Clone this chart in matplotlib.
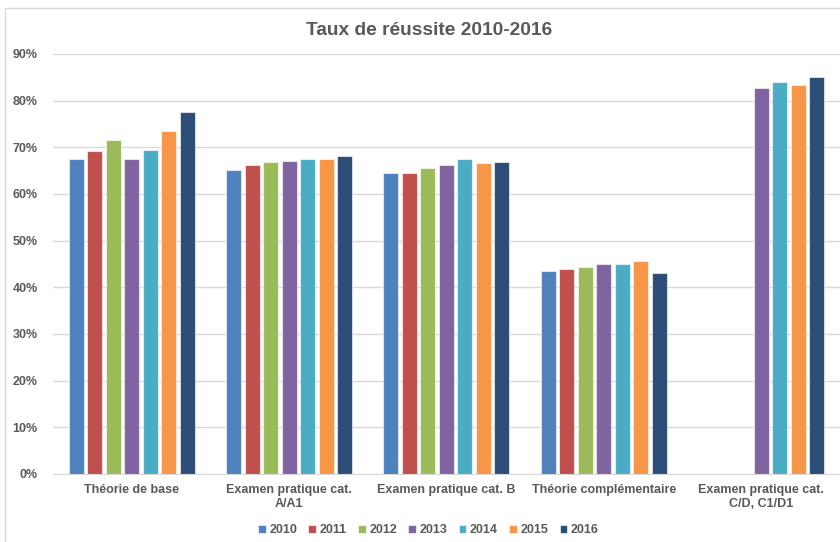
import matplotlib
matplotlib.use('Agg')
import matplotlib.pyplot as plt
import matplotlib.patches as patches
import numpy as np

plt.rcParams['font.family'] = ['Liberation Sans', 'DejaVu Sans']

categories = ['Théorie de base', 'Examen pratique cat.\nA/A1', 'Examen pratique cat. B',
              'Théorie complémentaire', 'Examen pratique cat.\nC/D, C1/D1']
years = ['2010', '2011', '2012', '2013', '2014', '2015', '2016']
nan = np.nan
# pass rate (%) per year, one value per category
r2010 = [67.5, 65.1, 64.6, 43.4, nan]
r2011 = [69.3, 66.2, 64.6, 43.9, nan]
r2012 = [71.6, 66.8, 65.5, 44.4, nan]
r2013 = [67.6, 67.1, 66.2, 44.9, 82.8]
r2014 = [69.4, 67.5, 67.5, 45.1, 84.0]
r2015 = [73.5, 67.5, 66.6, 45.6, 83.4]
r2016 = [77.6, 68.1, 66.9, 43.1, 85.0]
series = [r2010, r2011, r2012, r2013, r2014, r2015, r2016]
colors = ['#4F81BD', '#C0504D', '#9BBB59', '#8064A2', '#4BACC6', '#F79646', '#2C4D75']

fig = plt.figure(figsize=(8.4, 5.42), dpi=100)
ax = fig.add_axes([0.063, 0.1255, 0.937, 0.7749])

# chart frame (light border on top and left)
fig.add_artist(patches.Rectangle((5 / 840, -0.1), 1.2, 1 - 8 / 542 + 0.1, transform=fig.transFigure,
                                 fill=False, edgecolor='#D9D9D9', linewidth=1.0))

x = np.arange(len(categories))
pitch = 0.1175
width = 0.095
for i, (vals, c, yr) in enumerate(zip(series, colors, years)):
    offs = (i - 3) * pitch
    ax.bar(x + offs, np.array(vals) / 100, width, color=c, edgecolor=(1, 1, 1, 0.6),
           linewidth=0.8, label=yr, zorder=3)

ax.set_xlim(-0.5, len(categories) - 0.5)
ax.set_ylim(0, 0.9)
ax.set_yticks(np.arange(0, 0.91, 0.1))
ax.set_yticklabels([f'{int(round(v * 100))}%' for v in np.arange(0, 0.91, 0.1)])
ax.grid(axis='y', color='#D9D9D9', linewidth=1.0, zorder=0)
for s in ['top', 'right', 'left']:
    ax.spines[s].set_visible(False)
ax.spines['bottom'].set_color('#D9D9D9')
ax.set_xticks(x)
ax.set_xticklabels(categories)
ax.tick_params(axis='both', length=0, colors='#595959', labelsize=9)
ax.tick_params(axis='y', pad=11)
ax.tick_params(axis='x', pad=7)
for lab in ax.get_xticklabels() + ax.get_yticklabels():
    lab.set_fontweight('bold')
    lab.set_color('#595959')

fig.text(0.511, 0.943, 'Taux de réussite 2010-2016', ha='center', va='center',
         fontsize=13.8, fontweight='bold', color='#595959')

leg = fig.legend(loc='center', bbox_to_anchor=(0.51, 0.022), ncol=7, frameon=False,
                 handlelength=0.6, handleheight=0.6, handletextpad=0.3, columnspacing=0.9,
                 prop={'size': 9, 'weight': 'bold'})
for t in leg.get_texts():
    t.set_color('#595959')

plt.savefig('out.png', dpi=100, facecolor='white')
plt.close()
